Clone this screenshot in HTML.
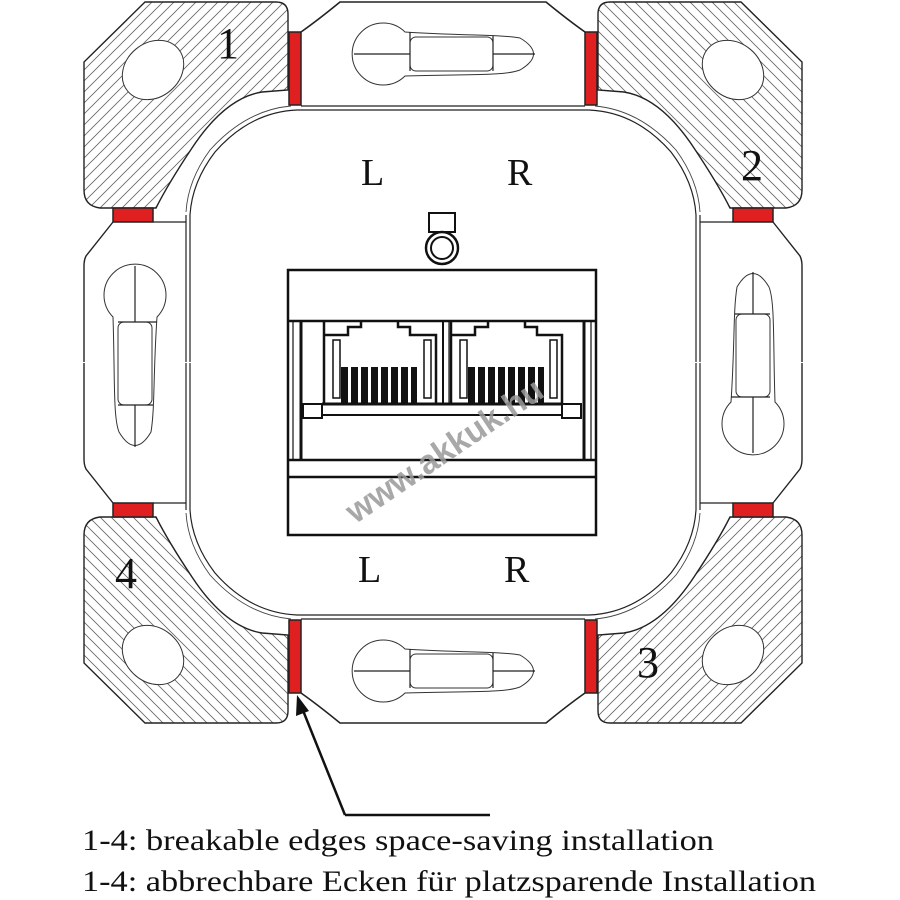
<!DOCTYPE html>
<html><head><meta charset="utf-8"><style>
html,body{margin:0;padding:0;background:#fff;}
svg{display:block;}
.serif{font-family:"Liberation Serif","Times New Roman",serif;}
.sans{font-family:"Liberation Sans",Arial,sans-serif;}
</style></head><body>
<svg width="900" height="900" viewBox="0 0 900 900" xmlns="http://www.w3.org/2000/svg">
<defs>
<pattern id="hatch" patternUnits="userSpaceOnUse" width="11" height="11">
<path d="M-1,12 L12,-1 M-1,1 L1,-1 M10,12 L12,10" stroke="#666" stroke-width="0.8"/>
</pattern>
<g id="quad">
 <path d="M145,2 L276,2 Q288,2 288,14 L288,90 L262,92 Q225,98 192,148 Q168,184 156,208 L100,208 Q84,206 84,190 L84,62 Z" fill="url(#hatch)" stroke="#222" stroke-width="1.4"/>
 <ellipse cx="153" cy="70" rx="33" ry="27" transform="rotate(-40 153 70)" fill="#fff" stroke="#333" stroke-width="1"/>
 <path d="M301,32 Q318,20 340,2 L443,2" fill="none" stroke="#222" stroke-width="1.6"/>
 <line x1="301" y1="106" x2="443" y2="106" stroke="#222" stroke-width="1.2"/>
 <path d="M443,110 L297,110 Q250,112 215,152 Q192,182 190,215 L190,362" fill="none" stroke="#222" stroke-width="1.2"/>
 <path d="M186,215 L186,362" fill="none" stroke="#222" stroke-width="1.2"/>
 <path d="M291,106 Q246,110 210,150 Q188,180 186,212" fill="none" stroke="#444" stroke-width="0.9"/>
 <path d="M113,222 L86,256 Q84,260 84,266 L84,362" fill="none" stroke="#222" stroke-width="1.4"/>
 <line x1="153" y1="222" x2="186" y2="222" stroke="#222" stroke-width="1.2"/>
 <rect x="289" y="32" width="12" height="73" fill="#e02020" stroke="#222" stroke-width="1.5"/>
 <rect x="113" y="208" width="40" height="14" fill="#e02020" stroke="#222" stroke-width="1.5"/>
</g>
<g id="slot">
 <path d="M-22,20 C-20,80 -22,120 -16,135 Q0,162 16,135 C20,110 18,80 22,20 A31,31 0 1 0 -22,20 Z" fill="#fff" stroke="#333" stroke-width="1"/>
 <rect x="-17" y="25" width="34" height="83" rx="6" fill="#fff" stroke="#333" stroke-width="1"/>
 <path d="M0,-31 L0,25 M-17,25 L22,25 M0,108 L0,150 M-17,108 L18,108" stroke="#222" stroke-width="1.2"/>
</g>
</defs>

<use href="#quad"/>
<use href="#quad" transform="translate(886,0) scale(-1,1)"/>
<use href="#quad" transform="translate(0,725) scale(1,-1)"/>
<use href="#quad" transform="translate(886,725) scale(-1,-1)"/>

<use href="#slot" transform="translate(135,297)"/>
<use href="#slot" transform="translate(753,422) rotate(180)"/>
<use href="#slot" transform="translate(385,54) rotate(-90)"/>
<use href="#slot" transform="translate(385,671) rotate(-90)"/>

<rect x="429" y="213" width="26" height="19" fill="#fff" stroke="#111" stroke-width="2"/>
<circle cx="442" cy="248" r="16" fill="#fff" stroke="#111" stroke-width="2.5"/>
<circle cx="442" cy="248" r="11" fill="#fff" stroke="#111" stroke-width="2"/>

<g stroke="#111" fill="none">
 <rect x="288" y="270" width="308" height="265" fill="#fff" stroke-width="2.5"/>
 <line x1="288" y1="321" x2="596" y2="321" stroke-width="2.5"/>
 <line x1="288" y1="460" x2="596" y2="460" stroke-width="2.5"/>
 <line x1="288" y1="477" x2="596" y2="477" stroke-width="2.5"/>
 <line x1="301" y1="321" x2="301" y2="460" stroke-width="3"/>
 <line x1="584" y1="321" x2="584" y2="460" stroke-width="3"/>
 <line x1="293" y1="321" x2="293" y2="460" stroke-width="1.2"/>
 <line x1="591" y1="321" x2="591" y2="460" stroke-width="1.2"/>
 <rect x="303" y="404" width="19" height="14" stroke-width="2"/>
 <rect x="562" y="404" width="19" height="14" stroke-width="2"/>
 <line x1="322" y1="404" x2="562" y2="404" stroke-width="3"/>
 <line x1="322" y1="415" x2="562" y2="415" stroke-width="2"/>
 <line x1="443" y1="321" x2="443" y2="404" stroke-width="2"/>
 <line x1="449" y1="321" x2="449" y2="404" stroke-width="1.2"/>
 <path d="M324,321 L324,404 M325,335 L348,335 L348,327 L361,327 L361,322 M398,322 L398,327 L410,327 L410,335 L436,335 L436,404" stroke-width="2.5"/>
 <rect x="333" y="340" width="7" height="58" stroke-width="1.5"/>
 <rect x="424" y="340" width="7" height="58" stroke-width="1.5"/>
 <path d="M451,321 L451,404 M452,335 L475,335 L475,327 L488,327 L488,322 M525,322 L525,327 L537,327 L537,335 L562,335 L562,404" stroke-width="2.5"/>
 <rect x="460" y="340" width="7" height="58" stroke-width="1.5"/>
 <rect x="550" y="340" width="7" height="58" stroke-width="1.5"/>
</g>
<g fill="#111">
 <rect x="341" y="367" width="7" height="37"/><rect x="351" y="367" width="7" height="37"/><rect x="361" y="367" width="7" height="37"/><rect x="371" y="367" width="7" height="37"/><rect x="381" y="367" width="7" height="37"/><rect x="391" y="367" width="7" height="37"/><rect x="401" y="367" width="7" height="37"/><rect x="411" y="367" width="6" height="37"/>
 <rect x="468" y="367" width="7" height="37"/><rect x="478" y="367" width="7" height="37"/><rect x="488" y="367" width="7" height="37"/><rect x="498" y="367" width="7" height="37"/><rect x="508" y="367" width="7" height="37"/><rect x="518" y="367" width="7" height="37"/><rect x="528" y="367" width="7" height="37"/><rect x="538" y="367" width="6" height="37"/>
</g>

<text class="sans" x="444" y="462" transform="rotate(-34 444 450)" text-anchor="middle" font-weight="bold" font-size="34" textLength="230" lengthAdjust="spacingAndGlyphs" fill="#9a9a9a" opacity="0.85">www.akkuk.hu</text>

<g class="serif" fill="#111">
 <text x="361" y="185" font-size="38">L</text>
 <text x="507" y="185" font-size="38">R</text>
 <text x="358" y="582" font-size="38">L</text>
 <text x="504" y="582" font-size="38">R</text>
 <text x="217" y="58" font-size="44">1</text>
 <text x="741" y="180" font-size="44">2</text>
 <text x="637" y="677" font-size="44">3</text>
 <text x="115" y="588" font-size="44">4</text>
</g>

<path d="M345,815 L490,815" stroke="#111" stroke-width="2.5" fill="none"/>
<path d="M345,815 L302,708" stroke="#111" stroke-width="2.5" fill="none"/>
<path d="M297,695 L296,716 L309,711 Z" fill="#111"/>

<g class="serif" fill="#111" font-size="30">
 <text x="82" y="850" textLength="632" lengthAdjust="spacingAndGlyphs">1-4: breakable edges space-saving installation</text>
 <text x="82" y="891" textLength="734" lengthAdjust="spacingAndGlyphs">1-4: abbrechbare Ecken für platzsparende Installation</text>
</g>
</svg>
</body></html>
